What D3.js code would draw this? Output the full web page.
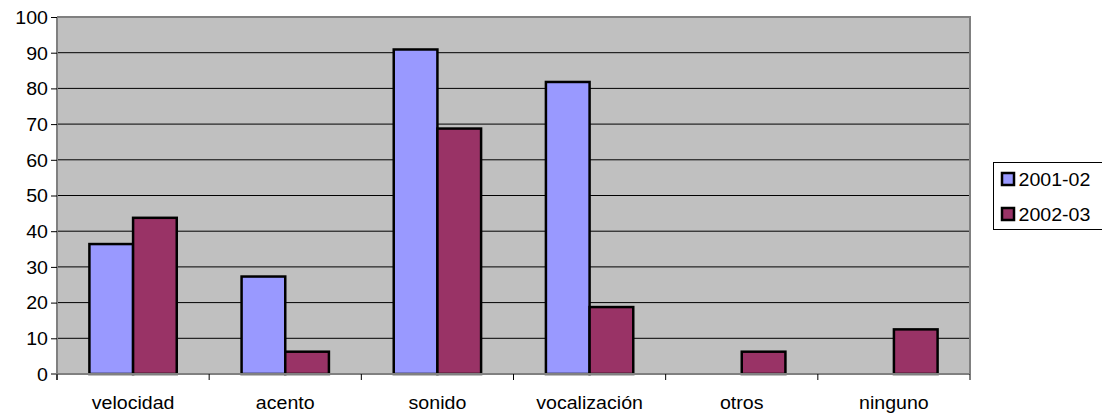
<!DOCTYPE html>
<html>
<head>
<meta charset="utf-8">
<script src="https://cdn.jsdelivr.net/npm/d3@7"></script>
<style>
html,body{margin:0;padding:0;background:#fff;}
svg{display:block;}
text{font-family:"Liberation Sans",Arial,sans-serif;fill:#000;}
</style>
</head>
<body>
<svg id="chart" width="1102" height="420"></svg>
<script>
const categories = ["velocidad","acento","sonido","vocalización","otros","ninguno"];
const seriesNames = ["2001-02","2002-03"];
const values2001 = [36.4, 27.3, 90.9, 81.8, 0, 0];
const values2002 = [43.75, 6.25, 68.75, 18.75, 6.25, 12.5];
const seriesColors = ["#9999ff","#993366"];
const yTicks = [0,10,20,30,40,50,60,70,80,90,100];

const svg = d3.select("#chart");
const L = 57, R = 970, T = 17, B = 374;
const SX = 1.12, FS = 17.5;

const x0 = d3.scaleBand().domain(categories).range([L, R]).paddingInner(0.426).paddingOuter(0.213);
const x1 = d3.scaleBand().domain(seriesNames).range([0, x0.bandwidth()]);
const y = d3.scaleLinear().domain([0, 100]).range([B, T]);
const step = x0.step();

// plot background
svg.append("rect").attr("x", L).attr("y", T).attr("width", R - L).attr("height", B - T).attr("fill", "#c0c0c0");

// gridlines
svg.append("g").selectAll("line").data(yTicks.filter(d => d > 0 && d < 100)).join("line")
  .attr("x1", L).attr("x2", R).attr("y1", d => y(d)).attr("y2", d => y(d))
  .attr("stroke", "#000").attr("stroke-width", 1);

// top & right border
svg.append("path").attr("d", `M${L},${T}H${R}V${B}`).attr("fill", "none").attr("stroke", "#808080").attr("stroke-width", 2);

// bars
const data = categories.map((c, i) => ({c, vals: [values2001[i], values2002[i]]}));
const g = svg.append("g");
data.forEach(d => {
  d.vals.forEach((v, j) => {
    if (v <= 0) return;
    g.append("rect")
      .attr("x", x0(d.c) + x1(seriesNames[j]))
      .attr("y", y(v))
      .attr("width", x1.bandwidth())
      .attr("height", y(0) - y(v))
      .attr("fill", seriesColors[j])
      .attr("stroke", "#000").attr("stroke-width", 2.5);
  });
});

// y axis
const yAxis = svg.append("g").attr("transform", `translate(${L},0)`)
  .call(d3.axisLeft(y).tickValues(yTicks).tickSize(6).tickPadding(9).tickFormat(d3.format("d")));
yAxis.select(".domain").attr("stroke", "#808080").attr("stroke-width", 2).attr("d", `M0,${T}V${B + 6}`);
yAxis.selectAll(".tick line").attr("stroke", "#000");
yAxis.selectAll(".tick text").each(function() {
  const t = d3.select(this);
  t.attr("font-size", FS).attr("font-family", null).attr("dy", "0.36em")
   .attr("transform", `translate(-9,0) scale(${SX},1)`).attr("x", 0);
});

// x axis
const xAxisG = svg.append("g");
xAxisG.append("line").attr("x1", L - 6).attr("x2", R).attr("y1", B).attr("y2", B)
  .attr("stroke", "#808080").attr("stroke-width", 2);
xAxisG.selectAll("line.xt").data(d3.range(categories.length + 1)).join("line").attr("class", "xt")
  .attr("x1", i => L + i * step).attr("x2", i => L + i * step)
  .attr("y1", B).attr("y2", B + 6).attr("stroke", "#000").attr("stroke-width", 1);
xAxisG.selectAll("text").data(categories).join("text")
  .attr("transform", d => `translate(${x0(d) + x0.bandwidth() / 2},409) scale(${SX},1)`)
  .attr("text-anchor", "middle").attr("font-size", FS).text(d => d);

// legend
const lg = svg.append("g");
lg.append("rect").attr("x", 993.5).attr("y", 162.5).attr("width", 110).attr("height", 67)
  .attr("fill", "#fff").attr("stroke", "#000").attr("stroke-width", 1);
seriesNames.forEach((s, i) => {
  const cy = 179 + i * 35;
  lg.append("rect").attr("x", 1002).attr("y", cy - 6).attr("width", 12).attr("height", 12)
    .attr("fill", seriesColors[i]).attr("stroke", "#000").attr("stroke-width", 2.5);
  lg.append("text").attr("transform", `translate(1018.5,${cy + 7}) scale(${SX},1)`)
    .attr("font-size", FS).text(s);
});
</script>
</body>
</html>
